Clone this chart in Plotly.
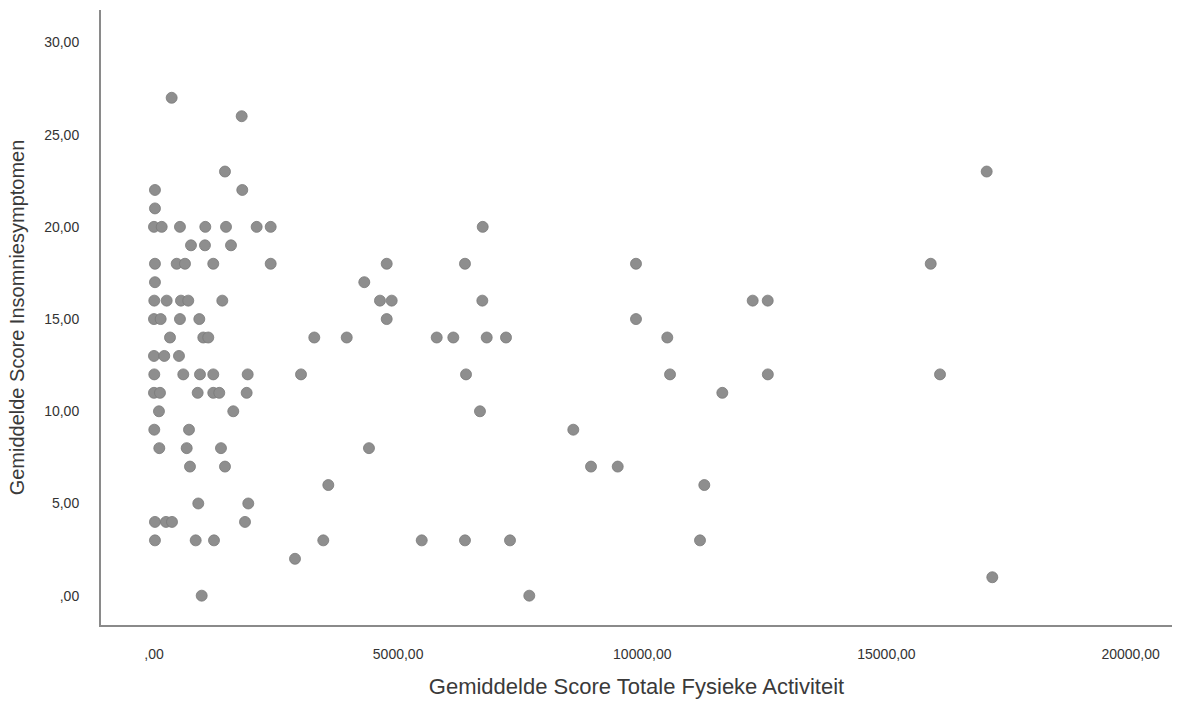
import plotly.graph_objects as go

# Gemiddelde Score Totale Fysieke Activiteit (x) and Gemiddelde Score Insomniesymptomen (y)
activiteit = [
    362, 1796, 1454, 17053, 20, 1808, 20,
    0, 158, 532, 1051, 1475, 2103, 2390, 6732,
    758, 1044, 1577,
    20, 465, 635, 1214, 2390, 4766, 6369, 9871, 15907,
    20, 4307,
    6, 260, 553, 702, 1399, 4628, 4868, 6724, 12261, 12569,
    0, 137, 532, 928, 4766, 9871,
    328, 1010, 1112, 3283, 3947, 5790, 6130, 6814, 7209, 10512,
    0, 211, 512,
    6, 600, 942, 1214, 1919, 3011, 6390, 10568, 12571, 16097,
    0, 123, 895, 1214, 1337, 1898, 11639,
    102, 1624, 6676,
    6, 717, 8587,
    109, 670, 1372, 4403,
    737, 1454, 8950, 9497,
    3570, 11270,
    907, 1931,
    20, 246, 369, 1864,
    20, 854, 1229, 3467, 5483, 6369, 7291, 11182,
    2888,
    17168,
    977, 7686,
]
insomnie = [
    27, 26, 23, 23, 22, 22, 21,
    20, 20, 20, 20, 20, 20, 20, 20,
    19, 19, 19,
    18, 18, 18, 18, 18, 18, 18, 18, 18,
    17, 17,
    16, 16, 16, 16, 16, 16, 16, 16, 16, 16,
    15, 15, 15, 15, 15, 15,
    14, 14, 14, 14, 14, 14, 14, 14, 14, 14,
    13, 13, 13,
    12, 12, 12, 12, 12, 12, 12, 12, 12, 12,
    11, 11, 11, 11, 11, 11, 11,
    10, 10, 10,
    9, 9, 9,
    8, 8, 8, 8,
    7, 7, 7, 7,
    6, 6,
    5, 5,
    4, 4, 4, 4,
    3, 3, 3, 3, 3, 3, 3, 3,
    2,
    1,
    0, 0,
]

x_ticks = [0, 5000, 10000, 15000, 20000]
x_ticklabels = [",00", "5000,00", "10000,00", "15000,00", "20000,00"]
y_ticks = [0, 5, 10, 15, 20, 25, 30]
y_ticklabels = [",00", "5,00", "10,00", "15,00", "20,00", "25,00", "30,00"]

fig = go.Figure()
fig.add_trace(go.Scatter(
    x=activiteit, y=insomnie, mode="markers",
    marker=dict(size=11, color="#8e8e8e", line=dict(color="#7a7a7a", width=0.8)),
    showlegend=False,
))

font_family = "Liberation Sans, Arial, sans-serif"
fig.update_layout(
    width=1180, height=702,
    margin=dict(l=101, r=8, t=10, b=77),
    paper_bgcolor="white", plot_bgcolor="white",
    font=dict(family=font_family, color="#333333"),
    xaxis=dict(
        range=[-1085, 20848], tickvals=x_ticks, ticktext=x_ticklabels,
        showgrid=False, zeroline=False, showline=True, linecolor="#8a8a8a", linewidth=2,
        ticks="", ticklabelstandoff=15, tickfont=dict(size=14, color="#333333"),
        title=dict(text="Gemiddelde Score Totale Fysieke Activiteit", standoff=18,
                   font=dict(size=22, color="#3a3a3a")),
    ),
    yaxis=dict(
        range=[-1.59, 31.76], tickvals=y_ticks, ticktext=y_ticklabels,
        showgrid=False, zeroline=False, showline=True, linecolor="#8a8a8a", linewidth=2,
        ticks="", ticklabelstandoff=17, tickfont=dict(size=14, color="#333333"),
        title=dict(text="Gemiddelde Score Insomniesymptomen", standoff=14,
                   font=dict(size=20, color="#3a3a3a")),
    ),
)

fig.write_html("out.html")
